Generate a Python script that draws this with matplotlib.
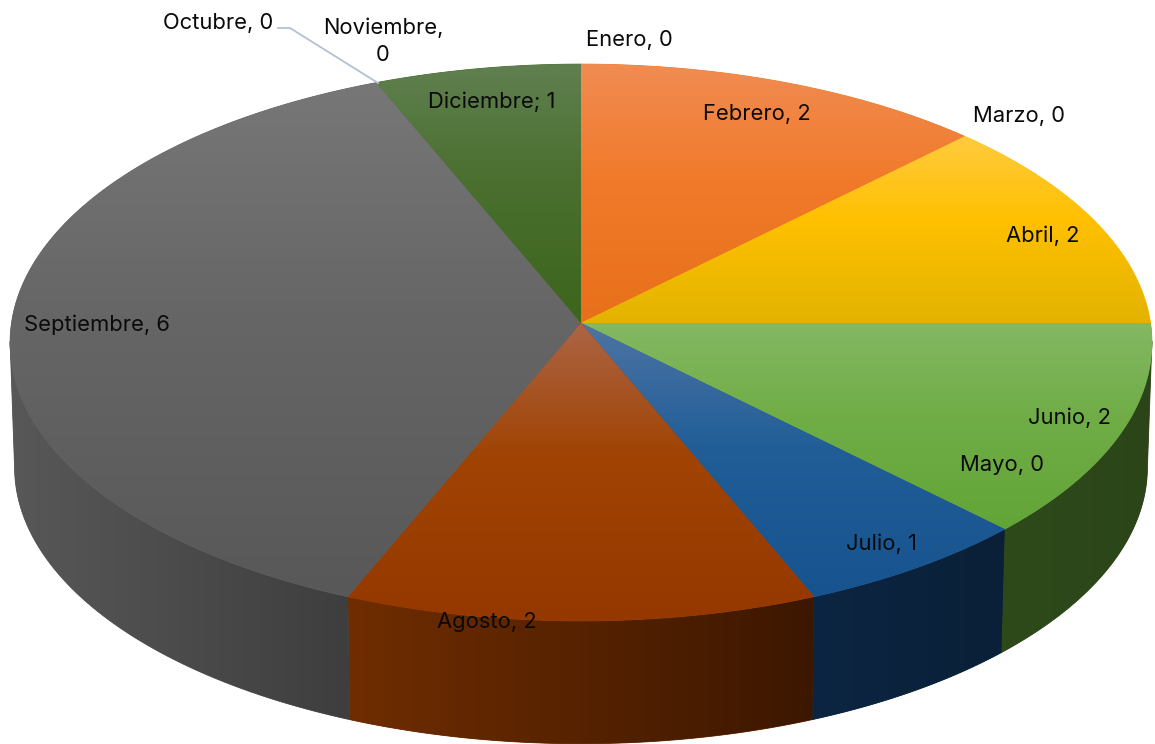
import numpy as np
import matplotlib
matplotlib.use("Agg")
import matplotlib.pyplot as plt
from matplotlib.patches import Polygon

months = ["Enero", "Febrero", "Marzo", "Abril", "Mayo", "Junio", "Julio",
          "Agosto", "Septiembre", "Octubre", "Noviembre", "Diciembre"]
values = [0, 2, 0, 2, 0, 2, 1, 2, 6, 0, 0, 1]
labels = ["Enero, 0", "Febrero, 2", "Marzo, 0", "Abril, 2", "Mayo, 0", "Junio, 2",
          "Julio, 1", "Agosto, 2", "Septiembre, 6", "Octubre, 0", "Noviembre,\n0",
          "Diciembre; 1"]

# styling / layout (pixels of the 1155x744 canvas)
TOP_STOPS = {"Febrero": ["#F08C52", "#F07A2A", "#E8701A"],
             "Abril": ["#FFCB3E", "#FFC000", "#E2B300"],
             "Junio": ["#84B863", "#70AD47", "#62A537"],
             "Julio": ["#4E74A4", "#215E98", "#17548F"],
             "Agosto": ["#AC6545", "#A04303", "#953800"],
             "Septiembre": ["#777777", "#666666", "#585858"],
             "Diciembre": ["#608050", "#4A6F2F", "#3D651C"]}
SIDE_STOPS = {"Junio": ["#2E4A1A", "#2B4519"],
              "Julio": ["#0C2542", "#0A2038"],
              "Agosto": ["#702D00", "#3C1700"],
              "Septiembre": ["#585858", "#3E3E3E"]}
LABEL_POS = {"Enero": (629, 40), "Febrero": (757, 114), "Marzo": (1019, 116),
             "Abril": (1043, 236), "Mayo": (1002, 465), "Junio": (1070, 418),
             "Julio": (881, 544), "Agosto": (487, 622), "Septiembre": (97, 325),
             "Octubre": (218, 23), "Noviembre": (383, 41), "Diciembre": (492, 102)}
CX, CY, A, B, K = 581, 323, 569.5, 277, 0.07
DEPTH, A2, B2 = 125, 565, 275
W, H = 1155, 744


def rim(theta, a, b, cy):
    u, v = np.sin(theta), np.cos(theta)
    w = 1 + K * v
    return np.column_stack([CX + a * u / w, cy - b * v / w])


def ramp(stops, t):
    cols = np.array([matplotlib.colors.to_rgb(c) for c in stops])
    pos = [0, 0.45, 1] if len(stops) == 3 else [0, 1]
    return np.stack([np.interp(t, pos, cols[:, i]) for i in range(3)], axis=1)


def gradient_y(stops, y0, y1):
    t = np.clip((np.arange(H) + 0.5 - y0) / (y1 - y0), 0, 1)
    return np.repeat(ramp(stops, t)[:, None, :], W, axis=1)


def gradient_x(stops, x0, x1):
    t = np.clip((np.arange(W) + 0.5 - x0) / (x1 - x0), 0, 1)
    return np.repeat(ramp(stops, t)[None, :, :], H, axis=0)


def fill(ax, verts, img, under, z):
    # a thin solid stroke under the gradient closes the seams between wedges
    base = Polygon(verts, closed=True, fc=under, ec=under, lw=0.6, zorder=z - 0.5)
    ax.add_patch(base)
    clip = Polygon(verts, closed=True, transform=ax.transData, fc="none", ec="none")
    ax.add_patch(clip)
    im = ax.imshow(img, extent=(0, W, H, 0), zorder=z, interpolation="nearest", aspect="auto")
    im.set_clip_path(clip)


plt.rcParams["font.family"] = ["Inter", "DejaVu Sans"]
fig = plt.figure(figsize=(W / 100, H / 100), dpi=100, facecolor="white")
ax = fig.add_axes([0, 0, 1, 1])

edges = np.cumsum([0] + values) / sum(values) * 2 * np.pi
for i, (m, val) in enumerate(zip(months, values)):
    if val == 0:
        continue
    th = np.linspace(edges[i], edges[i + 1], 240)
    if m in SIDE_STOPS:
        # the wall is visible only between the two widest points of the rim
        vis = th[np.cos(th) <= -K]
        t_arc = rim(vis, A, B, CY - 2)
        b_arc = rim(vis, A2, B2, CY + DEPTH)
        side = np.vstack([t_arc, b_arc[::-1]])
        stops = SIDE_STOPS[m]
        fill(ax, side, gradient_x(stops, side[:, 0].min(), side[:, 0].max()), stops[0], 2)
    wedge = np.vstack([[CX, CY], rim(th, A, B, CY)])
    stops = TOP_STOPS[m]
    fill(ax, wedge, gradient_y(stops, wedge[:, 1].min(), wedge[:, 1].max()), stops[1], 4)

for m, lab in zip(months, labels):
    x, y = LABEL_POS[m]
    ax.text(x, y, lab, ha="center", va="center", fontsize=15.8, color="#0A0A0A",
            zorder=6, linespacing=1.45)

leader = np.array([[278, 28], [290, 28], [378, 83]])
ax.plot(leader[:, 0], leader[:, 1], color="#B4C0D2", lw=1.3, zorder=5)

ax.set_xlim(0, W)
ax.set_ylim(H, 0)
ax.axis("off")
fig.savefig("out.png", dpi=100, facecolor="white")
